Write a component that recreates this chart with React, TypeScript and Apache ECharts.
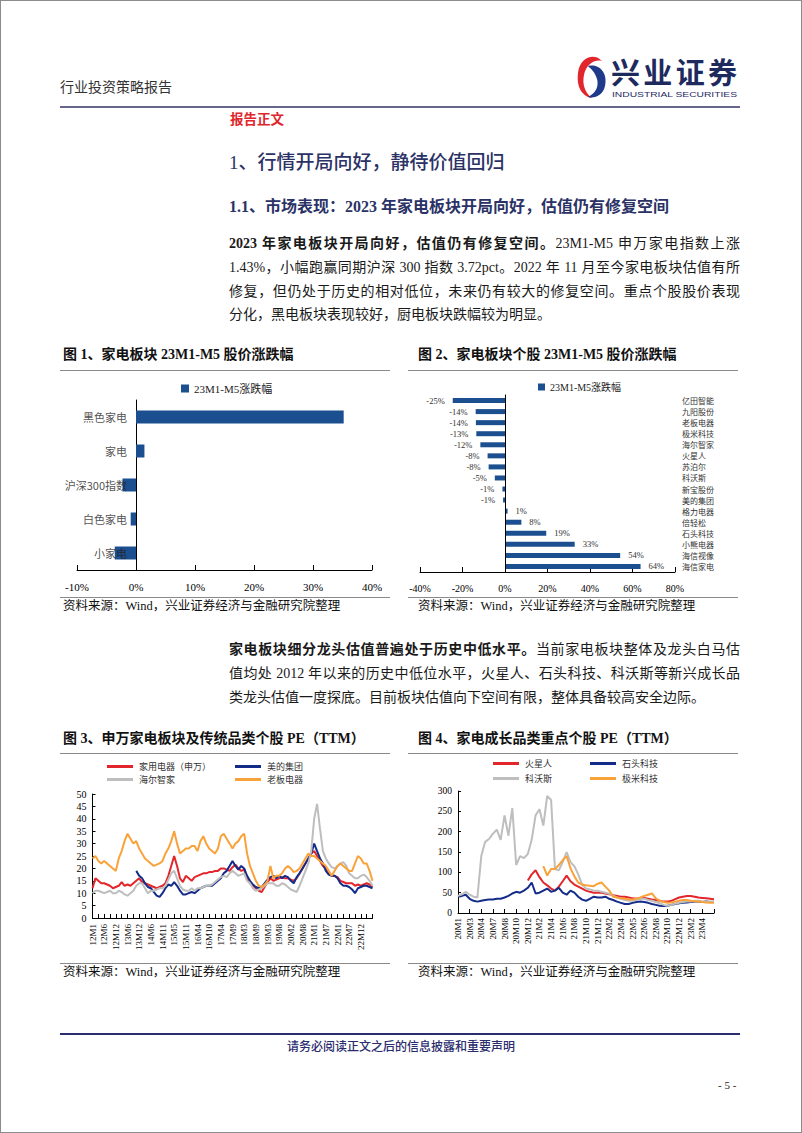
import React, { useEffect, useRef } from 'react';
import * as echarts from 'echarts';

const FONT_SERIF = "'Liberation Serif', 'Noto Sans CJK SC', serif";
const FONT_CJK = "'Noto Sans CJK SC', sans-serif";
const NAVY_TEXT = '#2b3266';
const BAR_BLUE = '#1B4F8F';
const C_RED = '#E3262B';
const C_NAVY = '#132C8A';
const C_GRAY = '#BEBEBE';
const C_ORANGE = '#F9A23A';

// ---------- Figure 1 ----------
const fig1SeriesName = '23M1-M5涨跌幅';
const fig1Categories = ['黑色家电', '家电', '沪深300指数', '白色家电', '小家电'];
const fig1Values = [35.2, 1.43, -2.29, -0.9, -3.6];

// ---------- Figure 2 ----------
const fig2Stocks = ['亿田智能', '九阳股份', '老板电器', '极米科技', '海尔智家', '火星人', '苏泊尔', '科沃斯', '新宝股份', '美的集团', '格力电器', '倍轻松', '石头科技', '小熊电器', '海信视像', '海信家电'];
const fig2Values = [-24.6, -13.8, -13.7, -13.5, -11.6, -8.2, -7.7, -4.8, -1.2, -0.9, 1.2, 7.7, 19.4, 32.8, 54.2, 63.8];

// ---------- Figure 3 ----------
const fig3TickLabels = ['12M1', '12M6', '12M12', '13M6', '13M12', '14M6', '14M11', '15M5', '15M11', '16M4', '16M10', '17M4', '17M9', '18M3', '18M9', '19M3', '19M8', '20M2', '20M8', '21M1', '21M7', '22M1', '22M7', '22M12'];
const fig3Names = ['家用电器（申万）', '美的集团', '海尔智家', '老板电器'];
const fig3Home = [
  12, 16, 15, 14, 14, 13.5, 13, 12, 12.5, 13,
  14.5, 13, 13.5, 13, 14, 15, 16, 14.5, 14, 13.5,
  13, 12.5, 12, 12.5, 13, 14, 17, 21, 25, 21,
  16, 14.5, 17, 16, 15, 16.5, 17, 17.5, 18, 18,
  18.5, 18.5, 19, 19, 20, 20, 19.5, 19, 20.5, 21.5,
  20, 19, 19.5, 16, 14, 13, 12, 11, 10.5, 12.5,
  14.5, 16, 15, 15.5, 16, 16.5, 16, 16, 15.5, 15,
  16, 18, 20, 22, 24, 26, 27, 25, 23, 21,
  20, 18, 17, 17, 16.5, 15, 14.5, 14, 14, 14,
  13, 13.5, 13, 13.5, 14, 13.5, 12.5,
];
const fig3Midea = [
  null, null, null, null, null, null, null, null, null, null,
  null, null, null, null, null, 19, 17, 16, 14, 12.5,
  12, 10.5, 9, 8.5, 10, 12, 13.5, 13, 14.5, 13,
  11, 9.5, 9.5, 10, 10.5, 10, 11, 12, 12.5, 13,
  13, 13, 14, 15, 16, 18, 19, 21, 23, 21,
  19.5, 21, 20, 17, 15, 13.5, 12.5, 12, 12.5, 14,
  15.5, 16.5, 17, 16, 17, 16, 17, 16.5, 15, 14,
  16.5, 18, 20, 22, 24, 26, 30, 27, 24, 22,
  19, 17.5, 17, 17, 16, 14, 13, 13, 12.5, 11.5,
  10, 12, 12.5, 13, 13, 12.5, 12,
];
const fig3Haier = [
  10, 11, 11, 10.5, 10, 10.5, 11, 10, 10, 11,
  10.5, 9.5, 9, 10, 11, 13, 14, 14, 12, 10,
  11, 11, 11.5, 12, 12, 13, 15.5, 18, 19, 16,
  13, 11.5, 11, 11, 12, 11, 12, 12, 12.5, 13,
  13, 13.5, 14.5, 15.5, 16.5, 17, 16.5, 18, 19, 18,
  17, 17.5, 18, 15, 14, 12, 11, 11.5, 12, 13,
  14, 14, 14, 13, 13, 14, 13.5, 12.5, 11.5, 11,
  10.5, 13, 16, 19, 22, 27, 40, 46, 36, 27,
  24, 22, 20.5, 20, 21, 22, 22.5, 21, 18, 17,
  16, 16, 17, 17.5, 16.5, 15, 13,
];
const fig3Robam = [
  24, 25, 23, 22, 23, 22, 21, 20, 19, 24,
  27, 31, 34, 32, 30, 31, 28, 26, 24, 23,
  22, 21, 21.5, 22, 23, 26, 28, 31, 35, 30,
  26, 27, 28, 28, 29, 29, 27, 31, 33, 30,
  28, 27, 26, 28, 33, 34, 32, 30, 28, 30,
  31, 33, 34, 26, 21, 18, 15, 13, 12.5, 13.5,
  15, 21, 16, 17, 17, 18, 20, 21, 20, 18.5,
  19, 20, 22, 24, 26, 25, 25, 24, 23, 22,
  21, 19, 17, 19, 21, 22, 21, 20, 19, 19,
  22, 25, 24, 22, 22, 19, 15,
];

// ---------- Figure 4 ----------
const fig4TickLabels = ['20M1', '20M3', '20M4', '20M7', '20M8', '20M10', '20M12', '21M2', '21M4', '21M6', '21M8', '21M10', '21M12', '22M2', '22M4', '22M5', '22M6', '22M8', '22M10', '22M12', '23M2', '23M4'];
const fig4Names = ['火星人', '石头科技', '科沃斯', '极米科技'];
const fig4Marssenger = [
  null, null, null, null, null, null, null, null, null, null,
  null, null, null, null, null, null, null, null, 80, 95,
  105, 88, 75, 68, 60, 55, 65, 78, 92, 78,
  70, 65, 60, 55, 52, 50, 50, 50, 48, 46,
  44, 42, 40, 40, 38, 36, 35, 36, 37, 35,
  33, 32, 30, 28, 28, 30, 34, 38, 40, 42,
  42, 40, 38, 37, 36, 35, 34,
];
const fig4Roborock = [
  40, 42, 45, 35, 30, 28, 30, 32, 33, 33,
  35, 35, 38, 42, 48, 52, 50, 55, 62, 75,
  48, 50, 55, 60, 52, 55, 62, 50, 45, 55,
  50, 40, 33, 30, 35, 40, 38, 38, 40, 35,
  32, 28, 25, 22, 22, 25, 27, 28, 27, 25,
  22, 20, 18, 17, 18, 20, 22, 24, 25, 26,
  27, 28, 28, 27, 28, 27, 27,
];
const fig4Ecovacs = [
  42, 46, 52, 45, 40, 38, 140, 175, 182, 195,
  205, 180, 240, 190, 258, 118, 140, 135, 145, 180,
  240, 255, 215, 288, 278, 108, 105, 125, 150, 125,
  115, 95, 70, 60, 58, 55, 55, 52, 50, 47,
  43, 38, 35, 32, 30, 30, 32, 35, 35, 32,
  30, 27, 24, 20, 18, 20, 23, 25, 27, 28,
  28, 30, 30, 28, 27, 28, 28,
];
const fig4Xgimi = [
  null, null, null, null, null, null, null, null, null, null,
  null, null, null, null, null, null, null, null, null, null,
  null, null, 115, 92, 108, 108, 118, 130, 140, 110,
  90, 75, 70, 68, 67, 66, 72, 75, 65, 55,
  40, 38, 36, 35, 33, 33, 35, 38, 42, 45,
  48, 36, 30, 27, 25, 26, 28, 30, 32, 32,
  30, 29, 28, 27, 26, 25, 25,
];

const fig3Categories = [...fig3TickLabels.flatMap((l) => [l, l + ' ', l + '  ', l + '   ']), '23M5'];
const fig4Categories = [...fig4TickLabels.flatMap((l) => [l, l + ' ', l + '  ']), '23M5'];

const blackLine = { color: '#000', width: 1 };

function lineLegend(name: string, left: number, top: number) {
  return {
    data: [name], left, top, padding: 0, icon: 'rect', itemWidth: 26, itemHeight: 3,
    selectedMode: false,
    textStyle: { fontSize: 9, fontFamily: FONT_CJK, color: '#333', padding: [0, 0, 0, 1] },
  };
}

function lineSeries(name: string, data: (number | null)[], color: string, xi: number, yi: number) {
  return {
    type: 'line', name, data, xAxisIndex: xi, yAxisIndex: yi,
    showSymbol: false, symbol: 'none', connectNulls: false,
    lineStyle: { width: 2, color }, itemStyle: { color },
  };
}

function buildOption(): any {
  return {
    animation: false,
    backgroundColor: 'transparent',
    grid: [
      { left: 77, top: 400, width: 295, height: 170, outerBoundsMode: 'none' },
      { left: 420, top: 395, width: 255, height: 177, outerBoundsMode: 'none' },
      { left: 92.5, top: 794, width: 280, height: 124, outerBoundsMode: 'none' },
      { left: 458, top: 791, width: 256, height: 122, outerBoundsMode: 'none' },
    ],
    legend: [
      {
        data: [fig1SeriesName], left: 181, top: 383, padding: 0, icon: 'rect', itemWidth: 8, itemHeight: 8,
        selectedMode: false, textStyle: { fontSize: 11, fontFamily: FONT_SERIF, color: '#222' },
      },
      {
        data: [fig1SeriesName], left: 538, top: 382, padding: 0, icon: 'rect', itemWidth: 7, itemHeight: 7,
        selectedMode: false, textStyle: { fontSize: 10, fontFamily: FONT_SERIF, color: '#222' },
      },
      lineLegend(fig3Names[0], 107, 762),
      lineLegend(fig3Names[1], 235, 762),
      lineLegend(fig3Names[2], 107, 775),
      lineLegend(fig3Names[3], 235, 775),
      lineLegend(fig4Names[0], 493, 759),
      lineLegend(fig4Names[1], 590, 759),
      lineLegend(fig4Names[2], 493, 774),
      lineLegend(fig4Names[3], 590, 774),
    ],
    xAxis: [
      {
        gridIndex: 0, type: 'value', min: -10, max: 40, interval: 10,
        axisLine: { show: true, onZero: false, lineStyle: blackLine },
        axisTick: { show: true, inside: true, length: 5, lineStyle: blackLine },
        splitLine: { show: false },
        axisLabel: { formatter: '{value}%', color: '#000', fontFamily: FONT_SERIF, fontSize: 11, margin: 11 },
      },
      {
        gridIndex: 1, type: 'value', min: -40, max: 80, interval: 20,
        axisLine: { show: true, onZero: false, lineStyle: blackLine },
        axisTick: { show: true, inside: true, length: 5, lineStyle: blackLine },
        splitLine: { show: false },
        axisLabel: { formatter: '{value}%', color: '#000', fontFamily: FONT_SERIF, fontSize: 10, margin: 11 },
      },
      {
        gridIndex: 2, type: 'category', data: fig3Categories, boundaryGap: false,
        axisLine: { show: true, onZero: false, lineStyle: blackLine },
        axisTick: { show: true, inside: true, length: 4, lineStyle: blackLine, interval: (i: number) => i % 2 === 0 },
        splitLine: { show: false },
        axisLabel: {
          interval: (i: number) => i % 4 === 0 && i < 96, rotate: 90, color: '#000',
          fontFamily: FONT_SERIF, fontSize: 9, margin: 6,
        },
      },
      {
        gridIndex: 3, type: 'category', data: fig4Categories, boundaryGap: false,
        axisLine: { show: true, onZero: false, lineStyle: blackLine },
        axisTick: { show: true, inside: true, length: 4, lineStyle: blackLine, interval: (i: number) => i % 3 === 0 },
        splitLine: { show: false },
        axisLabel: {
          interval: (i: number) => i % 3 === 0 && i < 66, rotate: 90, color: '#000',
          fontFamily: FONT_SERIF, fontSize: 9, margin: 5,
        },
      },
    ],
    yAxis: [
      {
        gridIndex: 0, type: 'category', data: fig1Categories, inverse: true,
        axisLine: { show: true, onZero: true, lineStyle: blackLine },
        axisTick: { show: false }, splitLine: { show: false }, axisLabel: { show: false },
      },
      {
        gridIndex: 1, type: 'category', data: fig2Stocks, inverse: true, position: 'left', z: 5,
        axisLine: { show: true, onZero: true, lineStyle: blackLine },
        axisTick: { show: false }, splitLine: { show: false }, axisLabel: { show: false },
      },
      {
        gridIndex: 1, type: 'category', data: fig2Stocks, inverse: true, position: 'right',
        axisLine: { show: false, onZero: false },
        axisTick: { show: false }, splitLine: { show: false },
        axisLabel: { color: '#333', fontFamily: FONT_CJK, fontSize: 8, margin: 7 },
      },
      {
        gridIndex: 2, type: 'value', min: 0, max: 50, interval: 5,
        axisLine: { show: true, lineStyle: blackLine },
        axisTick: { show: true, inside: true, length: 3, lineStyle: blackLine },
        splitLine: { show: false },
        axisLabel: { color: '#000', fontFamily: FONT_SERIF, fontSize: 10, margin: 6 },
      },
      {
        gridIndex: 3, type: 'value', min: 0, max: 300, interval: 50,
        axisLine: { show: true, lineStyle: blackLine },
        axisTick: { show: true, inside: true, length: 3, lineStyle: blackLine },
        splitLine: { show: false },
        axisLabel: { color: '#000', fontFamily: FONT_SERIF, fontSize: 9.5, margin: 6 },
      },
    ],
    series: [
      {
        type: 'bar', name: fig1SeriesName, xAxisIndex: 0, yAxisIndex: 0, data: fig1Values,
        barWidth: 13, itemStyle: { color: BAR_BLUE },
      },
      {
        // category names written at the 0% axis, drawn on top of the bars
        type: 'scatter', name: 'fig1-category-labels', xAxisIndex: 0, yAxisIndex: 0, z: 10,
        symbolSize: 0, silent: true,
        data: fig1Categories.map((c) => [0, c]),
        label: {
          show: true, position: 'left', distance: 9, color: '#222', fontFamily: FONT_CJK, fontSize: 11,
          formatter: (p: any) => p.value[1],
        },
      },
      {
        type: 'bar', name: fig1SeriesName, xAxisIndex: 1, yAxisIndex: 1, barWidth: 5,
        itemStyle: { color: BAR_BLUE },
        data: fig2Values.map((v) => ({ value: v, label: { position: v < 0 ? 'left' : 'right' } })),
        label: {
          show: true, distance: 8, color: '#333', fontFamily: FONT_SERIF, fontSize: 8.5,
          formatter: (p: any) => `${Math.round(p.value)}%`,
        },
      },
      lineSeries(fig3Names[0], fig3Home, C_RED, 2, 3),
      lineSeries(fig3Names[1], fig3Midea, C_NAVY, 2, 3),
      lineSeries(fig3Names[2], fig3Haier, C_GRAY, 2, 3),
      lineSeries(fig3Names[3], fig3Robam, C_ORANGE, 2, 3),
      lineSeries(fig4Names[0], fig4Marssenger, C_RED, 3, 4),
      lineSeries(fig4Names[1], fig4Roborock, C_NAVY, 3, 4),
      lineSeries(fig4Names[2], fig4Ecovacs, C_GRAY, 3, 4),
      lineSeries(fig4Names[3], fig4Xgimi, C_ORANGE, 3, 4),
    ],
  };
}

function Txt(props: { x: number; cy: number; size: number; children: any; style?: any; lh?: number }) {
  const lh = props.lh ?? Math.round(props.size * 1.5);
  return (
    <div
      style={{
        position: 'absolute', left: props.x, top: props.cy - lh / 2, height: lh, lineHeight: lh + 'px',
        fontSize: props.size, whiteSpace: 'nowrap', fontFamily: FONT_SERIF, color: '#111', ...props.style,
      }}
    >
      {props.children}
    </div>
  );
}

function HLine(props: { x: number; y: number; w: number; h?: number; color?: string }) {
  return (
    <div style={{ position: 'absolute', left: props.x, top: props.y, width: props.w, height: props.h ?? 1, background: props.color ?? '#888' }} />
  );
}

const justify = { width: 511, whiteSpace: 'normal', textAlign: 'justify', textAlignLast: 'justify', overflow: 'hidden' };
const bold = { fontWeight: 700 };

export default function App() {
  const ref = useRef<HTMLDivElement>(null);
  useEffect(() => {
    const chart = echarts.init(ref.current as HTMLDivElement, null, { renderer: 'svg' });
    chart.setOption(buildOption());
    return () => chart.dispose();
  }, []);

  const src = '资料来源：Wind，兴业证券经济与金融研究院整理';

  return (
    <div style={{ position: 'absolute', left: 0, top: 0, width: 802, height: 1133, background: '#fff', overflow: 'hidden' }}>
      <div ref={ref} style={{ position: 'absolute', left: 0, top: 0, width: 802, height: 1133 }} />

      {/* header */}
      <Txt x={60} cy={86} size={14} style={{ fontFamily: FONT_CJK, color: '#333' }}>行业投资策略报告</Txt>
      <svg style={{ position: 'absolute', left: 0, top: 0 }} width={802} height={110}>
        <path d="M602 61 C595 53 580 56 578 73 C576 89 584 97 592 98 C585 93 582 84 584 75 C586 65 594 59 602 61 Z" fill="#E1262D" />
        <path d="M588 66 C600 63 608 74 605 86 C603 95 595 99 588 97 C596 93 599 86 597 79 C595 72 591 69 588 66 Z" fill="#1F3A8A" />
        <text x={611} y={83.5} fontSize={29} fontWeight={700} fill="#1e2a5e" fontFamily={FONT_CJK} textLength={126} lengthAdjust="spacing">兴业证券</text>
        <text x={612} y={97} fontSize={8} textLength={125} lengthAdjust="spacingAndGlyphs" fill="#1e2a5e" fontFamily="'Liberation Sans Narrow','Liberation Sans',sans-serif">INDUSTRIAL SECURITIES</text>
      </svg>
      <HLine x={60} y={106} w={680} h={2} color="#66668a" />

      <Txt x={230} cy={117.5} size={13.5} style={{ fontFamily: FONT_CJK, color: '#E0262C', fontWeight: 700 }}>报告正文</Txt>
      <Txt x={229} cy={162} size={19} style={{ color: NAVY_TEXT, fontWeight: 500 }}>1、行情开局向好，静待价值回归</Txt>
      <Txt x={229} cy={207} size={16} style={{ color: NAVY_TEXT, fontWeight: 700 }}>1.1、市场表现：2023 年家电板块开局向好，估值仍有修复空间</Txt>

      <Txt x={229} cy={243.5} size={14} style={{ ...justify, color: '#1a1a1a' }}>
        <span style={bold}>2023 年家电板块开局向好，估值仍有修复空间。</span>23M1-M5 申万家电指数上涨
      </Txt>
      <Txt x={229} cy={267.5} size={14} style={{ ...justify, color: '#1a1a1a' }}>1.43%，小幅跑赢同期沪深 300 指数 3.72pct。2022 年 11 月至今家电板块估值有所</Txt>
      <Txt x={229} cy={291} size={14} style={{ ...justify, color: '#1a1a1a' }}>修复，但仍处于历史的相对低位，未来仍有较大的修复空间。重点个股股价表现</Txt>
      <Txt x={229} cy={314.5} size={14} style={{ color: '#1a1a1a' }}>分化，黑电板块表现较好，厨电板块跌幅较为明显。</Txt>

      {/* figure 1 & 2 frames */}
      <Txt x={63} cy={354.5} size={14} style={{ fontWeight: 700 }}>图 1、家电板块 23M1-M5 股价涨跌幅</Txt>
      <Txt x={418} cy={354.5} size={14} style={{ fontWeight: 700 }}>图 2、家电板块个股 23M1-M5 股价涨跌幅</Txt>
      <HLine x={60} y={370} w={330} color="#8a8a8a" />
      <HLine x={408} y={370} w={330} color="#8a8a8a" />
      <HLine x={60} y={597} w={330} color="#8a8a8a" />
      <HLine x={408} y={597} w={330} color="#8a8a8a" />
      <Txt x={63} cy={606.5} size={12.5}>{src}</Txt>
      <Txt x={418} cy={606.5} size={12.5}>{src}</Txt>

      <Txt x={229} cy={649} size={14} style={{ ...justify, color: '#1a1a1a' }}>
        <span style={bold}>家电板块细分龙头估值普遍处于历史中低水平。</span>当前家电板块整体及龙头白马估
      </Txt>
      <Txt x={229} cy={673} size={14} style={{ ...justify, color: '#1a1a1a' }}>值均处 2012 年以来的历史中低位水平，火星人、石头科技、科沃斯等新兴成长品</Txt>
      <Txt x={229} cy={697} size={14} style={{ color: '#1a1a1a' }}>类龙头估值一度探底。目前板块估值向下空间有限，整体具备较高安全边际。</Txt>

      {/* figure 3 & 4 frames */}
      <Txt x={63} cy={738.5} size={14} style={{ fontWeight: 700 }}>图 3、申万家电板块及传统品类个股 PE（TTM）</Txt>
      <Txt x={418} cy={738.5} size={14} style={{ fontWeight: 700 }}>图 4、家电成长品类重点个股 PE（TTM）</Txt>
      <HLine x={60} y={753} w={330} color="#8a8a8a" />
      <HLine x={408} y={753} w={330} color="#8a8a8a" />
      <HLine x={60} y={963} w={330} color="#8a8a8a" />
      <HLine x={408} y={963} w={330} color="#8a8a8a" />
      <Txt x={63} cy={972} size={12.5}>{src}</Txt>
      <Txt x={418} cy={972} size={12.5}>{src}</Txt>

      {/* footer */}
      <HLine x={60} y={1033} w={680} h={2} color="#2b2d6e" />
      <div style={{ position: 'absolute', left: 0, width: 802, top: 1038, height: 16, lineHeight: '16px', textAlign: 'center', fontSize: 12, fontFamily: FONT_CJK, color: '#2b2d6e', fontWeight: 500 }}>
        请务必阅读正文之后的信息披露和重要声明
      </div>
      <Txt x={718} cy={1085} size={11} style={{ color: '#222' }}>- 5 -</Txt>

      {/* page border */}
      <div style={{ position: 'absolute', left: 0, top: 0, width: 802, height: 1133, boxSizing: 'border-box', border: '1px solid #8c8c8c', pointerEvents: 'none' }} />
    </div>
  );
}
